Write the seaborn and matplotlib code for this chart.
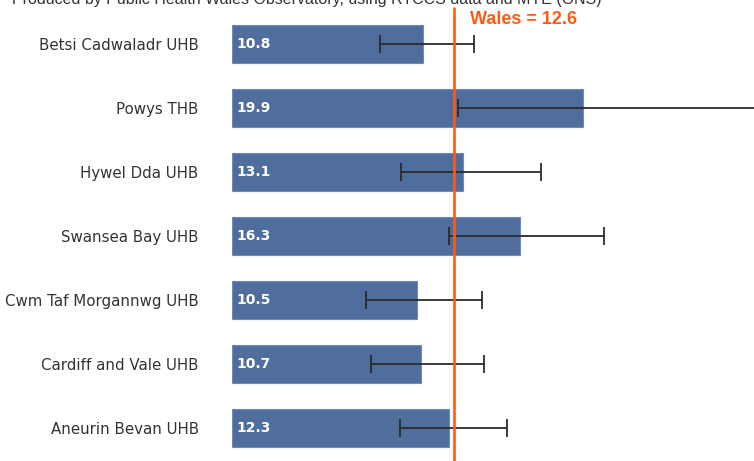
import matplotlib
matplotlib.use("Agg")
import matplotlib.pyplot as plt
import seaborn as sns
import pandas as pd
import numpy as np

categories = ["Betsi Cadwaladr UHB", "Powys THB", "Hywel Dda UHB", "Swansea Bay UHB",
              "Cwm Taf Morgannwg UHB", "Cardiff and Vale UHB", "Aneurin Bevan UHB"]
values = [10.8, 19.9, 13.1, 16.3, 10.5, 10.7, 12.3]
lower_ci = [8.4, 12.8, 9.6, 12.3, 7.6, 7.9, 9.5]
upper_ci = [13.7, 31.5, 17.5, 21.1, 14.2, 14.3, 15.6]
wales_value = 12.6
caption = "Produced by Public Health Wales Observatory, using RTCCS data and MYE (ONS)"

df = pd.DataFrame({"area": categories, "value": values})

sns.set_style("white")
W, H = 754, 461
fig = plt.figure(figsize=(W / 100, H / 100), dpi=100)
ax = fig.add_axes([232 / W, 0, (W - 232) / W, 1])

bar_color = "#4F6E9D"
sns.barplot(data=df, x="value", y="area", orient="h", color=bar_color, width=0.59,
            edgecolor="#6F8CB6", linewidth=0.8, ax=ax, saturation=1)

ypos = np.arange(len(categories))
vals = np.array(values)
err = np.vstack([vals - np.array(lower_ci), np.array(upper_ci) - vals])
ax.errorbar(vals, ypos, xerr=err, fmt="none", ecolor="#2b2b2b", elinewidth=1.3,
            capsize=6.8, capthick=1.3, zorder=3)

for y, v in zip(ypos, values):
    ax.text(0.25, y, f"{v:.1f}", color="white", fontweight="bold", fontsize=10,
            va="center", ha="left", family="DejaVu Sans", zorder=4)

ax.axvline(wales_value, ymin=0, ymax=1 - 8 / H, color="#FF5A14", linewidth=1.9, zorder=5)
ax.text((470 - 232) / 17.64, (20 - 44) / 64, f"Wales = {wales_value}", color="#FF5A14",
        fontweight="bold", fontsize=13, family="Liberation Sans", va="center", ha="left",
        zorder=6)

ax.set_xlim(0, (W - 232) / 17.64)
ax.set_ylim((H - 44) / 64, -44 / 64)
ax.set_xlabel("")
ax.set_ylabel("")
ax.set_xticks([])
ax.tick_params(axis="y", length=0, pad=24, labelsize=10.8, labelcolor="#333333")
for lbl in ax.get_yticklabels():
    lbl.set_family("DejaVu Sans")
for s in ax.spines.values():
    s.set_visible(False)

fig.text(12 / W, 1 - 4 / H, caption, fontsize=11.5, color="#333333",
         family="Liberation Sans", va="baseline", ha="left")

fig.savefig("out.png", dpi=100)
